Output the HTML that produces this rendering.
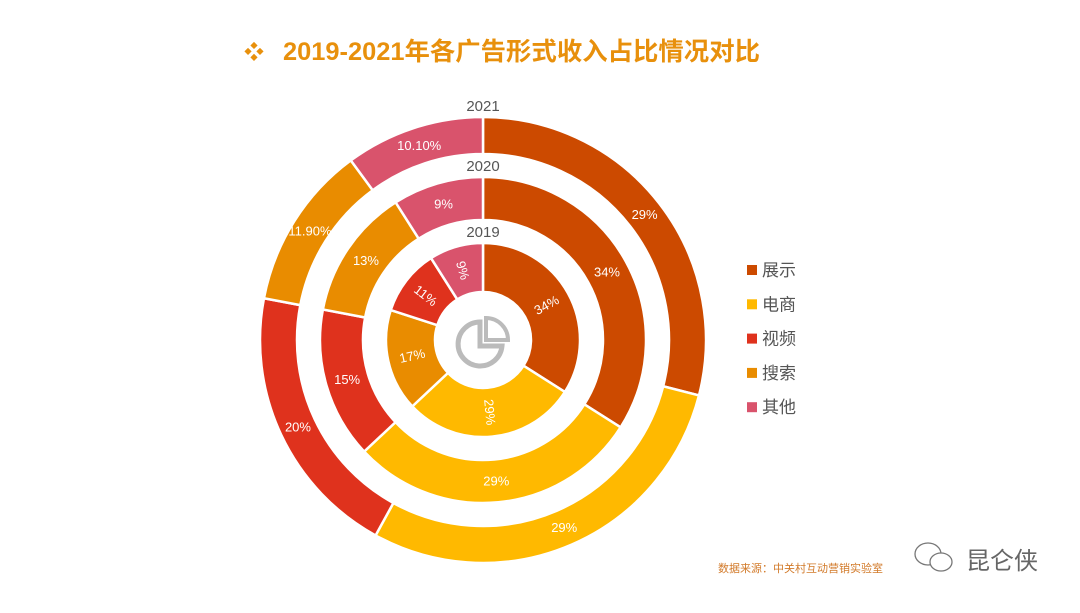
<!DOCTYPE html>
<html><head><meta charset="utf-8"><style>
html,body{margin:0;padding:0;background:#fff;}
body{width:1080px;height:608px;overflow:hidden;font-family:"Liberation Sans","Noto Sans CJK SC",sans-serif;}
</style></head><body>
<svg id="chart" width="1080" height="608" viewBox="0 0 1080 608" xmlns="http://www.w3.org/2000/svg">
<text x="244" y="59" font-size="20" font-weight="bold" fill="#e8900c">❖</text>
<text x="283" y="60" font-size="25" font-weight="bold" fill="#e8900c" textLength="477" lengthAdjust="spacingAndGlyphs" font-family="Liberation Sans, Noto Sans CJK SC, sans-serif">2019-2021年各广告形式收入占比情况对比</text>
<g id="rings"></g>
<g fill="none" stroke="#bbb" stroke-width="5">
<path d="M480,322 A22,22 0 1,0 502,346 L480,346 Z"/>
<path d="M486,318 L486,340 L508,340 A22,22 0 0,0 486,318 Z" stroke-width="4"/>
</g>
<g id="legend"></g>
<text x="718" y="572" font-size="11" fill="#d27a2a">数据来源：中关村互动营销实验室</text>
<g>
<ellipse cx="928" cy="554" rx="13" ry="11" fill="none" stroke="#777" stroke-width="1.3"/>
<ellipse cx="941" cy="562" rx="11" ry="9" fill="#fff" stroke="#777" stroke-width="1.3"/>
<text x="966" y="569" font-size="24" fill="#666">昆仑侠</text>
</g>
</svg>
<script>
const categories = ["展示","电商","视频","搜索","其他"];
const colors = {"展示":"#cc4a00","电商":"#ffb900","视频":"#df321d","搜索":"#e98c00","其他":"#d9536c"};
const years = ["2021","2020","2019"];
const order2021 = ["展示","电商","视频","搜索","其他"];
const values2021 = [29,29,20,11.9,10.1];
const labels2021 = ["29%","29%","20%","11.90%","10.10%"];
const order2020 = ["展示","电商","视频","搜索","其他"];
const values2020 = [34,29,15,13,9];
const labels2020 = ["34%","29%","15%","13%","9%"];
const order2019 = ["展示","电商","搜索","视频","其他"];
const values2019 = [34,29,17,11,9];
const labels2019 = ["34%","29%","17%","11%","9%"];

const cx=483, cy=340;
const NS="http://www.w3.org/2000/svg";
const ringsG=document.getElementById('rings');
const ringDefs=[
 {year:"2021",order:order2021,vals:values2021,labels:labels2021,ro:223,ri:186,rot:false},
 {year:"2020",order:order2020,vals:values2020,labels:labels2020,ro:163,ri:120,rot:false},
 {year:"2019",order:order2019,vals:values2019,labels:labels2019,ro:97,ri:48,rot:true}
];
function pt(r,a){return [cx+r*Math.sin(a), cy-r*Math.cos(a)];}
ringDefs.forEach(rd=>{
  const total=rd.vals.reduce((a,b)=>a+b,0);
  let acc=0;
  rd.vals.forEach((v,i)=>{
    const a0=acc/total*2*Math.PI, a1=(acc+v)/total*2*Math.PI; acc+=v;
    const large=(a1-a0)>Math.PI?1:0;
    const p0=pt(rd.ro,a0),p1=pt(rd.ro,a1),p2=pt(rd.ri,a1),p3=pt(rd.ri,a0);
    const path=document.createElementNS(NS,'path');
    path.setAttribute('d',`M${p0} A${rd.ro},${rd.ro} 0 ${large},1 ${p1} L${p2} A${rd.ri},${rd.ri} 0 ${large},0 ${p3} Z`);
    path.setAttribute('fill',colors[rd.order[i]]);
    path.setAttribute('stroke','#fff');
    path.setAttribute('stroke-width','2.5');
    
    
    ringsG.appendChild(path);
    const am=(a0+a1)/2, lp=pt((rd.ro+rd.ri)/2,am);
    const t=document.createElementNS(NS,'text');
    t.setAttribute('x',lp[0]);t.setAttribute('y',lp[1]);
    t.setAttribute('text-anchor','middle');t.setAttribute('dominant-baseline','central');
    t.setAttribute('font-size','13');t.setAttribute('fill','#fff');
    if(rd.rot){let d=am*180/Math.PI-90; if(d>90)d-=180; if(d<-90)d+=180; if(d>180)d-=360; t.setAttribute('transform',`rotate(${d} ${lp[0]} ${lp[1]})`);}
    t.textContent=rd.labels[i];
    
    
    ringsG.appendChild(t);
  });
  const yl=document.createElementNS(NS,'text');
  yl.setAttribute('x',cx);yl.setAttribute('y',cy-rd.ro-6);
  yl.setAttribute('text-anchor','middle');yl.setAttribute('font-size','15');yl.setAttribute('fill','#555');
  yl.textContent=rd.year;
  
  
  ringsG.appendChild(yl);
});
const lg=document.getElementById('legend');
categories.forEach((c,i)=>{
  const y=270+i*34.3;
  const g=document.createElementNS(NS,'g');
  
  
  const r=document.createElementNS(NS,'rect');
  r.setAttribute('x',747);r.setAttribute('y',y-5);r.setAttribute('width',10);r.setAttribute('height',10);r.setAttribute('fill',colors[c]);
  g.appendChild(r);
  const t=document.createElementNS(NS,'text');
  t.setAttribute('x',762);t.setAttribute('y',y+6);t.setAttribute('font-size','17');t.setAttribute('fill','#555');
  t.textContent=c;g.appendChild(t);
  lg.appendChild(g);
});
</script>
</body></html>
